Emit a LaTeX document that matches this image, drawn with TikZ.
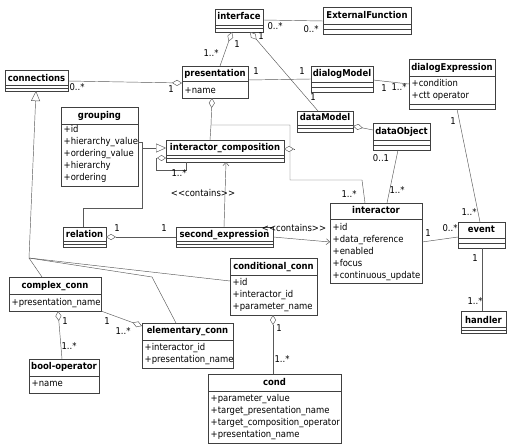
\documentclass[tikz,border=0pt]{standalone}
\usepackage{fontspec}
\setmainfont{DejaVu Sans}[FakeStretch=0.9]
\usetikzlibrary{arrows.meta,calc}
\newcommand\umlcls[8]{%
  \node[cbox, minimum width=#4pt, minimum height=#5pt, anchor=north west] (#1) at (#2,#3) {};
  \foreach \dd in {#8}{\draw[cline] ($(#1.north west)+(0,\dd)$) -- ($(#1.north east)+(0,\dd)$);}
  \node[ctitle] (#1-t) at ($(#1.north)+(0,#7)$) {#6};
}
\newcommand\umlattrs[4]{%
  \foreach \aa [count=\ii] in {#4}{\node[attr] (#1-a\ii) at ($(#1.north west)+(2.5,{#2+(\ii-1)*#3})$) {\aa};}
}
\begin{document}
\begin{tikzpicture}[x=1pt,y=-1pt,
  cbox/.style={draw=black!75, fill=white, line width=0.5pt, inner sep=0, outer sep=0, rectangle},
  cline/.style={draw=black!75, line width=0.5pt},
  ctitle/.style={font=\fontsize{9.4}{10}\selectfont\bfseries, inner sep=0, text height=6.8pt, text depth=1.8pt},
  attr/.style={font=\fontsize{9.4}{10}\selectfont, inner sep=0, text height=6.8pt, text depth=1.8pt, anchor=west},
  lbl/.style={font=\fontsize{9.4}{10}\selectfont, inner sep=0, text height=6.8pt, text depth=1.8pt},
  cn/.style={draw=black!65, line width=0.45pt},
  aggS/.style={cn, {Diamond[fill=white,length=10pt,width=6pt]}-},
  aggE/.style={cn, -{Diamond[fill=white,length=10pt,width=6pt]}},
  aggSs/.style={cn, {Diamond[fill=white,length=9pt,width=6pt]}-},
  genE/.style={cn, -{Triangle[open,fill=white,length=10pt,width=9pt]}},
  depE/.style={cn, -{Straight Barb[length=3.5pt,width=6pt]}}
]
\useasboundingbox (0,0) rectangle (510,446);
\fill[white] (0,0) rectangle (510,446);

% classes
\umlcls{iface}{215}{9}{48}{23}{interface}{8}{16,19.5}
\umlcls{extf}{323}{7}{88}{27}{ExternalFunction}{9}{17,22}
\umlcls{cons}{5}{70}{63}{21}{connections}{9}{15,18}
\umlcls{pres}{182}{66}{66}{32}{presentation}{8}{15}
\umlattrs{pres}{25}{12}{+name}
\umlcls{dmod}{311}{66}{62}{26}{dialogModel}{8}{16,21}
\umlcls{dexp}{409}{59}{86}{50}{dialogExpression}{9}{17,45}
\umlattrs{dexp}{25}{12}{+condition,+ctt operator}
\umlcls{dmodel}{297}{111}{56}{21}{dataModel}{7.5}{14,17.5}
\umlcls{dobj}{373}{123}{57}{27}{dataObject}{9}{17,22}
\umlcls{grp}{61}{107}{77}{79}{grouping}{9}{17}
\umlattrs{grp}{23}{12}{+id,+hierarchy\_value,+ordering\_value,+hierarchy,+ordering}
\umlcls{ic}{166}{140}{118}{22}{interactor\_composition}{8}{15,18.5}
\umlcls{intr}{330}{203}{92}{80}{interactor}{8}{16}
\umlattrs{intr}{25}{12}{+id,+data\_reference,+enabled,+focus,+continuous\_update}
\umlcls{evt}{458}{222}{47}{26}{event}{8}{16,21}
\umlcls{hnd}{461}{311}{45}{22}{handler}{10}{16,19}
\umlcls{rel}{63}{227}{43}{20}{relation}{8}{14,17}
\umlcls{sexp}{176}{227}{97}{20}{second\_expression}{8}{14,17}
\umlcls{cc}{230}{258}{87}{57}{conditional\_conn}{9}{17}
\umlattrs{cc}{25}{12}{+id,+interactor\_id,+parameter\_name}
\umlcls{cplx}{9}{277}{92}{34}{complex\_conn}{9}{17}
\umlattrs{cplx}{26}{12}{+presentation\_name}
\umlcls{elem}{142}{323}{91}{45}{elementary\_conn}{8}{17}
\umlattrs{elem}{25}{11.5}{+interactor\_id,+presentation\_name}
\umlcls{bop}{29}{359}{70}{34}{bool-operator}{8}{17}
\umlattrs{bop}{25}{12}{+name}
\umlcls{cond}{208}{374}{133}{69}{cond}{9}{17}
\umlattrs{cond}{25}{12}{+parameter\_value,+target\_presentation\_name,+target\_composition\_operator,+presentation\_name}

% bend points
\coordinate (jp) at (211,125);
\coordinate (k1) at (290,125);
\coordinate (k2) at (290,180);
\coordinate (k3) at (362,180);
\coordinate (g1) at (142,142);
\coordinate (g2) at (142,148);
\coordinate (r2) at (142,208);
\coordinate (s1) at (156,158);
\coordinate (s2) at (156,170);
\coordinate (s3) at (186,170);
\coordinate (J) at (29,258);
\coordinate (e1) at (152,277);

% connectors
\draw[cn] ($(iface.north east)+(0,11)$) -- ($(extf.north west)+(0,14)$);
\draw[aggS] ($(iface.south west)+(17,0)$) -- ($(pres.north west)+(38,0)$);
\draw[aggS] ($(iface.south west)+(35,0)$) -- ($(dmodel.north west)+(21,0)$);
\draw[aggE] ($(cons.north east)+(0,11)$) -- ($(pres.north west)+(0,17)$);
\draw[cn] ($(pres.north east)+(0,14)$) -- ($(dmod.north west)+(0,13)$);
\draw[cn] ($(dmod.north east)+(0,14)$) -- ($(dexp.north west)+(0,25)$);
\draw[aggS] ($(dmodel.north east)+(0,15)$) -- ($(dobj.north west)+(0,7)$);
\draw[cn] ($(dobj.south west)+(25,0)$) -- ($(intr.north west)+(57,0)$);
\draw[aggS] ($(pres.south west)+(30,0)$) -- (jp) -- ($(ic.north west)+(44,0)$);
\draw[cn] (jp) -- (k1) -- (k2) -- (k3) -- ($(intr.north west)+(35,0)$);
\draw[aggE] ($(ic.north east)+(11,9)$) -- ($(ic.north east)+(0,9)$);
\draw[aggSs] ($(ic.north west)+(0,18)$) -- (s1) -- (s2) -- (s3) -- ($(ic.south west)+(20,0)$);
\draw[genE] ($(grp.north east)+(0,35)$) -- (g1) -- (g2) -- ($(ic.north west)+(0,8)$);
\draw[cn] ($(rel.north west)+(20,0)$) |- (r2) -- (g2);
\draw[depE] ($(sexp.north west)+(48,0)$) -- ($(ic.south west)+(60,0)$);
\draw[aggS] ($(rel.north east)+(0,10)$) -- ($(sexp.north west)+(0,10)$);
\draw[depE] ($(sexp.north east)+(0,10)$) -- ($(intr.north west)+(0,39)$);
\draw[cn] ($(intr.north east)+(0,39)$) -- ($(evt.north west)+(0,15)$);
\draw[cn] ($(dexp.south west)+(48,0)$) -- ($(evt.north west)+(22,0)$);
\draw[cn] ($(evt.south west)+(24,0)$) -- ($(hnd.north west)+(21,0)$);
\draw[genE] (J) -- ($(cons.south west)+(31,0)$);
\draw[cn] (J) -- ($(cplx.north west)+(33,0)$);
\draw[cn] (J) -- (e1) -- ($(elem.north west)+(34,0)$);
\draw[cn] (J) -- ($(cc.north west)+(0,23)$);
\draw[aggE] (cplx.south east) -- ($(elem.north west)+(0,3)$);
\draw[aggS] ($(cplx.south west)+(49,0)$) -- ($(bop.north west)+(33,0)$);
\draw[aggS] ($(cc.south west)+(43,0)$) -- ($(cond.north west)+(65,0)$);

% multiplicities and stereotypes
\node[lbl] (m1) at (275,27) {0..*};
\node[lbl] (m2) at (311,30) {0..*};
\node[lbl] (m3) at (237,45) {1};
\node[lbl] (m4) at (211,54) {1..*};
\node[lbl] (m5) at (261,37) {1};
\node[lbl] (m6) at (313,98) {1};
\node[lbl] (m7) at (77,88) {0..*};
\node[lbl] (m8) at (171,90) {1};
\node[lbl] (m9) at (256,72) {1};
\node[lbl] (m10) at (302,72) {1};
\node[lbl] (m11) at (384,89) {1};
\node[lbl] (m12) at (399,88) {1..*};
\node[lbl] (m13) at (381,159) {0..1};
\node[lbl] (m14) at (397,191) {1..*};
\node[lbl] (m15) at (349,195) {1..*};
\node[lbl] (m16) at (179,174) {1..*};
\node[lbl] (st1) at (203,194) {<{}<contains>{}>};
\node[lbl] (m17) at (117,229) {1};
\node[lbl] (m18) at (164,229) {1};
\node[lbl] (st2) at (294,229) {<{}<contains>{}>};
\node[lbl] (m19) at (428,234) {1};
\node[lbl] (m20) at (450,229) {0..*};
\node[lbl] (m21) at (453,122) {1};
\node[lbl] (m22) at (469,213) {1..*};
\node[lbl] (m23) at (475,259) {1};
\node[lbl] (m24) at (475,302) {1..*};
\node[lbl] (m25) at (107,322) {1};
\node[lbl] (m26) at (123,332) {1..*};
\node[lbl] (m27) at (65,322) {1};
\node[lbl] (m28) at (69,347) {1..*};
\node[lbl] (m29) at (279,329) {1};
\node[lbl] (m30) at (282,360) {1..*};
\end{tikzpicture}
\end{document}
